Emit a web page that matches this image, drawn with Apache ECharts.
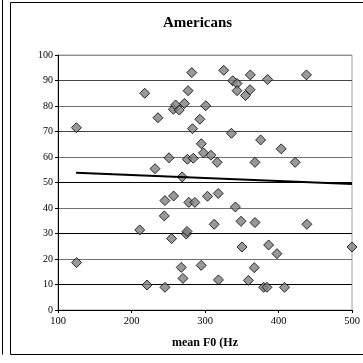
<!DOCTYPE html>
<html><head><meta charset="utf-8">
<script src="https://cdn.jsdelivr.net/npm/echarts@6/dist/echarts.min.js"></script>
<style>html,body{margin:0;padding:0;background:#fff}#c{width:363px;height:363px}</style>
</head><body><div id="c"></div>
<script>
const titleText = "Americans";
const xAxisName = "mean F0 (Hz";
const xTicks = [100, 200, 300, 400, 500];
const yTicks = [0, 10, 20, 30, 40, 50, 60, 70, 80, 90, 100];
// scatter points: mean F0 (Hz)
const pointsX = [125, 218, 236, 251, 232, 257, 260, 265, 272, 277, 282, 283, 276, 284, 293, 295, 298, 301, 308, 316.5, 269,
  325.5, 337.7, 343.6, 343.6, 355, 361.3, 361.7, 385.2, 438, 336, 375.7, 403.7, 422.7, 368,
  303.4, 318, 341.4, 312.5, 349, 368, 438.6, 350.4, 386.6, 397.9, 294.8, 367, 318.3, 359, 379.8, 384.3, 408.2,
  245.5, 257.3, 278, 286.2, 244.6, 211.2, 254.6, 274.5, 275.5, 125.3, 267.7, 270, 221.1, 245.5, 500];
const pointsY = [71.5, 85, 75.4, 59.7, 55.4, 78.7, 80.4, 78.4, 81, 86, 93.1, 71.1, 59.1, 59.5, 74.8, 65.2, 61.6, 80.1, 60.7, 57.9, 52.2,
  94, 89.9, 88.8, 86.0, 84.1, 86.4, 92.2, 90.4, 92.2, 69.3, 66.7, 63.2, 57.9, 57.9,
  44.6, 45.7, 40.4, 33.6, 34.8, 34.3, 33.6, 24.7, 25.5, 22.1, 17.5, 16.6, 11.8, 11.6, 8.9, 8.9, 8.9,
  42.9, 44.7, 42.2, 42.2, 36.9, 31.4, 28.0, 29.8, 30.8, 18.6, 16.7, 12.4, 9.8, 8.9, 24.7];
// trend line endpoints
const trendX = [124.5, 500];
const trendY = [53.8, 49.4];

const font = "'Liberation Serif', 'Times New Roman', serif";
const gridColors = ['#000', '#000', '#707070', '#000', '#707070', '#000', '#707070', '#444', '#707070', '#444', '#909090'];

const chart = echarts.init(document.getElementById('c'), null, {renderer: 'canvas'});
chart.setOption({
  animation: false,
  backgroundColor: '#fff',
  title: {
    text: titleText, left: 158, top: 11,
    textStyle: {fontFamily: font, fontWeight: 'bold', fontSize: 15, color: '#000'}
  },
  grid: {left: 58, top: 55, right: 11, bottom: 53, show: true, borderColor: '#a0a0a0', borderWidth: 1, backgroundColor: 'transparent'},
  xAxis: {
    type: 'value', min: 100, max: 500, interval: 100,
    name: xAxisName, nameLocation: 'middle', nameGap: 27,
    nameTextStyle: {fontFamily: font, fontWeight: 'bold', fontSize: 12, color: '#000'},
    axisLine: {show: true, onZero: false, lineStyle: {color: '#000', width: 1}},
    axisTick: {show: true, inside: false, length: 3, lineStyle: {color: '#000'}},
    axisLabel: {fontFamily: font, fontSize: 10.5, color: '#000', margin: 6,
      formatter: v => xTicks.includes(v) ? String(v) : ''},
    splitLine: {show: false}
  },
  yAxis: {
    type: 'value', min: 0, max: 100, interval: 10,
    axisLine: {show: true, onZero: false, lineStyle: {color: '#000', width: 1}},
    axisTick: {show: true, inside: false, length: 3, lineStyle: {color: '#000'}},
    axisLabel: {fontFamily: font, fontSize: 10, color: '#000', margin: 5,
      formatter: v => yTicks.includes(v) ? String(v) : ''},
    splitLine: {show: true, lineStyle: {color: gridColors, width: 1}}
  },
  series: [
    {
      type: 'scatter', symbol: 'diamond', symbolSize: 10,
      itemStyle: {color: '#808080', borderColor: '#000', borderWidth: 1},
      data: pointsX.map((x, i) => [x, pointsY[i]]),
      z: 3
    },
    {
      type: 'line', symbol: 'none', silent: true,
      lineStyle: {color: '#000', width: 2},
      data: trendX.map((x, i) => [x, trendY[i]]),
      z: 4
    }
  ],
  graphic: [
    {type: 'rect', shape: {x: 10.5, y: 2.5, width: 360, height: 352}, style: {fill: 'none', stroke: '#000', lineWidth: 1}, silent: true},
    {type: 'line', shape: {x1: 2.5, y1: 0, x2: 2.5, y2: 354.5}, style: {stroke: '#000', lineWidth: 1}, silent: true}
  ]
});
</script>
</body></html>
